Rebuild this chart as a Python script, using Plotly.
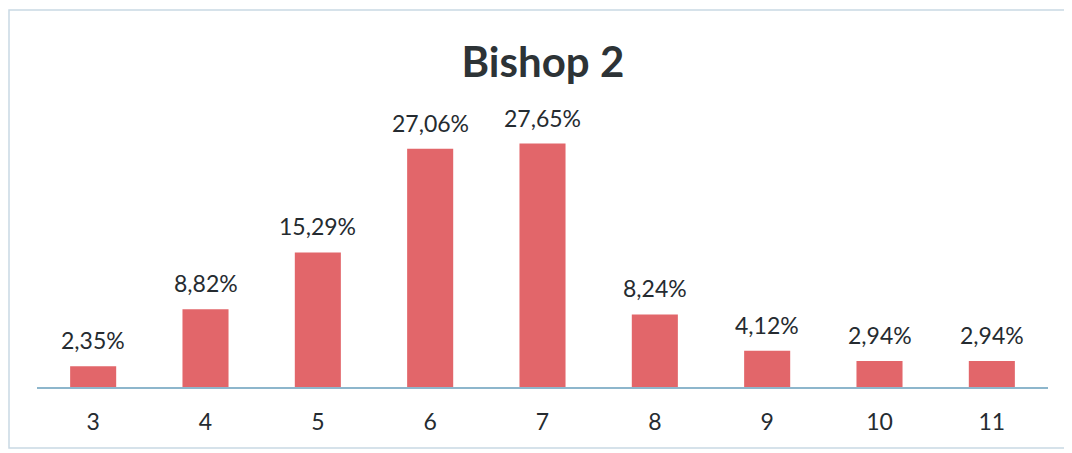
import plotly.graph_objects as go

categories = ["3", "4", "5", "6", "7", "8", "9", "10", "11"]
percentages = [2.35, 8.82, 15.29, 27.06, 27.65, 8.24, 4.12, 2.94, 2.94]
labels = [f"{v:.2f}%".replace(".", ",") for v in percentages]

bar_color = "#e2666a"
text_color = "#252b30"
font_family = "Lato, Open Sans, sans-serif"

fig = go.Figure()
fig.add_trace(go.Bar(x=categories, y=percentages, marker_color=bar_color,
                     marker_line_width=0, hoverinfo="skip"))

# data labels sit a bit above the bars, like the Excel original
for i, (val, lab) in enumerate(zip(percentages, labels)):
    fig.add_annotation(x=i, y=val, text=lab, showarrow=False,
                       yanchor="bottom", yshift=10,
                       font=dict(family=font_family, size=23, color=text_color))

# page body has an 8px margin, so margins are trimmed to compensate
fig.update_layout(
    width=1072, height=453,
    margin=dict(l=29, r=32, t=92, b=74),
    paper_bgcolor="white", plot_bgcolor="white",
    bargap=0.59,
    showlegend=False,
    title=dict(text="<b>Bishop 2</b>", x=0.499, xanchor="center", y=0.881, yanchor="middle",
               font=dict(family=font_family, size=42, color="#2d3336")),
    xaxis=dict(type="category", range=[-0.5, 8.5], showline=True, linecolor="#8db6cc",
               linewidth=1.5, showgrid=False, ticks="", ticklabelstandoff=14,
               tickfont=dict(family=font_family, size=23, color=text_color)),
    yaxis=dict(range=[0, 32.6], visible=False, showgrid=False, zeroline=False),
    shapes=[dict(type="rect", xref="paper", yref="paper", x0=-0.0277, x1=1.08, y0=-0.2125, y1=1.3136,
                 line=dict(color="#c9d9e4", width=1.5))],
)

fig.write_html("out.html")
